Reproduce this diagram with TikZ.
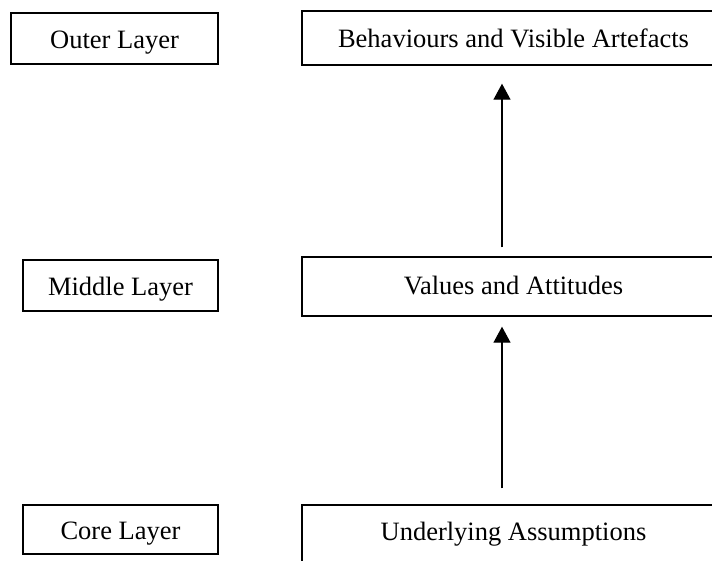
\documentclass[tikz,border=0pt]{standalone}
\usepackage{fontspec}
\setmainfont{Liberation Serif}
\usetikzlibrary{arrows.meta}
\begin{document}
\begin{tikzpicture}[x=1pt,y=-1pt,
  layerbox/.style={draw, line width=1.4pt, inner sep=0pt,
    text height=20pt, text depth=0pt,
    font=\fontsize{26.5}{30}\selectfont},
  labelbox/.style={layerbox, minimum width=195pt},
  contentbox/.style={layerbox, minimum width=423pt},
  flow/.style={-{Triangle[length=16pt,width=17pt]}, line width=1.3pt}]
\useasboundingbox (0,0) rectangle (712,560);
\clip (0,0) rectangle (712,560);

% layer names
\node[labelbox, minimum width=207pt, minimum height=51pt] (outer) at (114.5,38.5) {Outer Layer};
\node[labelbox, minimum height=51pt] (middle) at (120.5,285.5) {Middle Layer};
\node[labelbox, minimum height=49pt] (core) at (120.5,529.5) {Core Layer};

% contents of each layer
\node[contentbox, minimum height=54pt, text height=18pt] (behaviours) at (513.5,38) {Behaviours and Visible Artefacts};
\node[contentbox, minimum height=59pt, text height=16pt] (values) at (513.5,286.5) {Values and Attitudes};
\node[contentbox, minimum height=58pt, text height=12pt] (assumptions) at (513.5,534) {Underlying Assumptions};

% upward influence
\coordinate (ax) at (502,0);
\draw[flow, shorten <=16pt, shorten >=10pt] (assumptions.north -| ax) -- (values.south -| ax);
\draw[flow, shorten <=9pt, shorten >=18pt] (values.north -| ax) -- (behaviours.south -| ax);
\end{tikzpicture}
\end{document}
